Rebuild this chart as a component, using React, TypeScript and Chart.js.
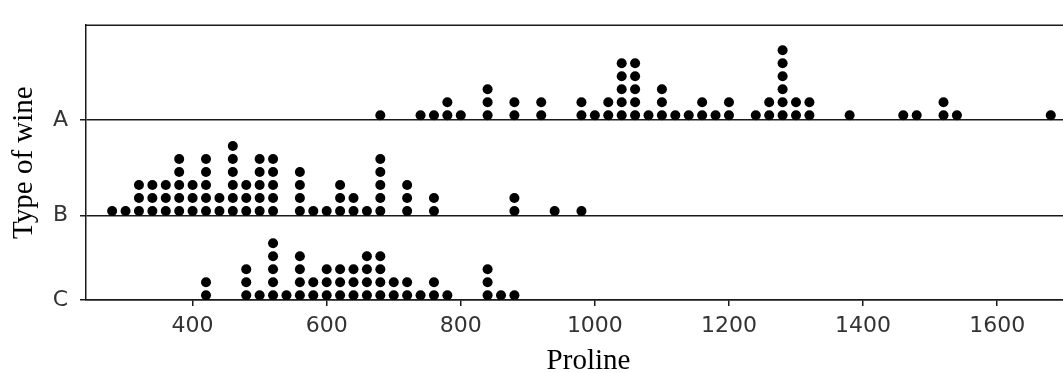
import React, { useEffect, useRef } from "react";
import { Chart, registerables } from "chart.js";

Chart.register(...registerables);

// Dot plot: bin value (Proline) and number of wines in that bin
const prolineA = [680, 740, 760, 780, 800, 840, 880, 920, 980, 1000, 1020, 1040, 1060, 1080, 1100, 1120, 1140, 1160, 1180, 1200, 1240, 1260, 1280, 1300, 1320, 1380, 1460, 1480, 1520, 1540, 1680];
const countA = [1, 1, 1, 2, 1, 3, 2, 2, 2, 1, 2, 5, 5, 1, 3, 1, 1, 2, 1, 2, 1, 2, 6, 2, 2, 1, 1, 1, 2, 1, 1];

const prolineB = [280, 300, 320, 340, 360, 380, 400, 420, 440, 460, 480, 500, 520, 560, 580, 600, 620, 640, 660, 680, 720, 760, 880, 940, 980];
const countB = [1, 1, 3, 3, 3, 5, 3, 5, 2, 6, 3, 5, 5, 4, 1, 1, 3, 2, 1, 5, 3, 2, 2, 1, 1];

const prolineC = [420, 480, 500, 520, 540, 560, 580, 600, 620, 640, 660, 680, 700, 720, 740, 760, 780, 840, 860, 880];
const countC = [2, 3, 1, 5, 1, 4, 2, 3, 3, 3, 4, 4, 2, 2, 1, 2, 1, 3, 1, 1];

const wineTypes = ["A", "B", "C"];
const xTicks = [400, 600, 800, 1000, 1200, 1400, 1600];

// layout of the stacked rows (in y-axis units = pixels of the plot)
const rowBase: Record<string, number> = { A: 190, B: 89, C: 0 };
const DOT_OFFSET = 5;
const DOT_STEP = 13.7;

function stackPoints(vals: number[], counts: number[], base: number) {
  const pts: { x: number; y: number }[] = [];
  vals.forEach((v, i) => {
    for (let k = 0; k < counts[i]; k++) {
      pts.push({ x: v, y: base + DOT_OFFSET + DOT_STEP * k });
    }
  });
  return pts;
}

const frameLine = {
  id: "frameLine",
  afterDraw(chart: any) {
    const { ctx, chartArea } = chart;
    ctx.save();
    ctx.strokeStyle = "#1a1a1a";
    ctx.lineWidth = 1.5;
    ctx.beginPath();
    ctx.moveTo(chartArea.left, chartArea.top);
    ctx.lineTo(chartArea.right + 20, chartArea.top);
    ctx.stroke();
    ctx.restore();
  },
};

export default function App() {
  const canvasRef = useRef<HTMLCanvasElement | null>(null);

  useEffect(() => {
    if (!canvasRef.current) return;
    const mk = (label: string, pts: any[]) => ({
      label,
      data: pts,
      backgroundColor: "#000",
      borderColor: "#000",
      borderWidth: 0,
      pointRadius: 5,
      pointHoverRadius: 5,
      pointStyle: "circle",
    });
    const chart = new Chart(canvasRef.current, {
      type: "scatter",
      data: {
        datasets: [
          mk("A", stackPoints(prolineA, countA, rowBase.A)),
          mk("B", stackPoints(prolineB, countB, rowBase.B)),
          mk("C", stackPoints(prolineC, countC, rowBase.C)),
        ],
      },
      options: {
        animation: false,
        responsive: false,
        devicePixelRatio: 1,
        layout: { padding: { left: 0, right: 9, top: 10, bottom: 0 } },
        plugins: { legend: { display: false }, tooltip: { enabled: false } },
        scales: {
          x: {
            type: "linear",
            min: 241,
            max: 1740,
            afterBuildTicks: (s: any) => {
              s.ticks = xTicks.map((v) => ({ value: v }));
            },
            afterFit: (s: any) => {
              s.height = 73;
            },
            border: { display: true, color: "#1a1a1a", width: 1.5 },
            grid: {
              drawOnChartArea: false,
              drawTicks: true,
              tickLength: 6,
              color: "#1a1a1a",
              lineWidth: 1.5,
            },
            ticks: {
              color: "#333",
              padding: 7,
              maxRotation: 0,
              font: { family: "DejaVu Sans", size: 22, lineHeight: 1.2 },
              callback: (v: any) => String(v),
            },
            title: {
              display: true,
              text: "Proline",
              color: "#000",
              font: { family: "Liberation Serif", size: 29, lineHeight: 0.8 },
              padding: { top: 0, bottom: 0 },
            },
          },
          y: {
            type: "linear",
            min: 0,
            max: 290,
            afterBuildTicks: (s: any) => {
              s.ticks = wineTypes.map((t) => ({ value: rowBase[t] }));
            },
            afterFit: (s: any) => {
              s.width = 86;
            },
            border: { display: true, color: "#1a1a1a", width: 1.5 },
            grid: {
              drawOnChartArea: true,
              drawTicks: true,
              tickLength: 6,
              color: "#1a1a1a",
              lineWidth: 1.5,
            },
            ticks: {
              color: "#333",
              padding: 12,
              font: { family: "DejaVu Sans", size: 22, lineHeight: 1.2 },
              callback: (v: any) => {
                const t = wineTypes.find((w) => rowBase[w] === v);
                return t ?? "";
              },
            },
            title: {
              display: true,
              text: "Type of wine",
              color: "#000",
              font: { family: "Liberation Serif", size: 29, lineHeight: 1.2 },
              padding: { top: 7, bottom: 0 },
            },
          },
        },
      },
      plugins: [frameLine],
    });
    return () => chart.destroy();
  }, []);

  return (
    <div
      style={{
        position: "fixed",
        left: 0,
        top: 0,
        width: 1063,
        height: 373,
        overflow: "hidden",
        background: "#fff",
      }}
    >
      <canvas ref={canvasRef} width={1100} height={373} style={{ display: "block" }} />
    </div>
  );
}
